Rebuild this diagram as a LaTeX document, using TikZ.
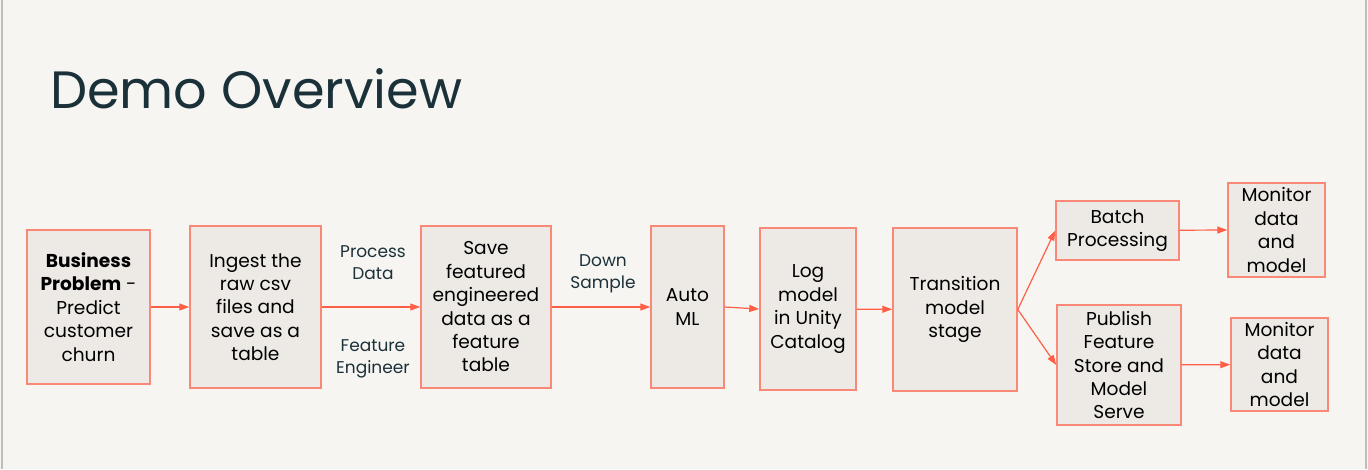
\documentclass[tikz,border=0pt]{standalone}
\usepackage{fontspec}
\setmainfont{Poppins}
\usepackage{xcolor}
\usetikzlibrary{arrows.meta}
\definecolor{dbbg}{HTML}{F7F5F2}
\definecolor{dbfill}{HTML}{EDEAE6}
\definecolor{dbline}{HTML}{F98877}
\definecolor{dbarrow}{HTML}{FF5F46}
\definecolor{dbnavy}{HTML}{1B3139}
\definecolor{dbedge}{HTML}{BDBDBD}

\begin{document}
\begin{tikzpicture}[x=1pt, y=-1pt,
		stepbox/.style={draw=dbline, line width=1.5pt, fill=dbfill, inner sep=0pt, align=center, font=\fontsize{18.6}{23.4}\selectfont, text=black},
		flow/.style={draw=dbarrow, line width=1.2pt, -{Triangle[length=10pt, width=7pt]}},
		note/.style={align=center, font=\fontsize{17}{22}\selectfont, text=dbnavy}]
		\useasboundingbox (0,0) rectangle (1368,469);
		\fill[dbbg] (0,0) rectangle (1368,469);
		\draw[color=dbedge, line width=1.5pt] (2,0) -- (2,469);
		\draw[color=dbedge, line width=1.5pt] (1366,0) -- (1366,469);
		\node[anchor=base west, font=\fontsize{52.5}{60}\selectfont, text=dbnavy, inner sep=0pt] (title) at (50,108) {Demo Overview};
		\node[stepbox, minimum width=123pt, minimum height=154pt] (problem) at (88.5,307) {\textbf{Business}\\\textbf{Problem} -\\Predict\\customer\\churn};
		\node[stepbox, minimum width=131pt, minimum height=162pt] (ingest) at (255.5,307) {Ingest the\\raw csv\\files and\\save as a\\table};
		\node[stepbox, minimum width=130pt, minimum height=162pt] (featured) at (486,307) {Save\\featured\\engineered\\data as a\\feature\\table};
		\node[stepbox, minimum width=73pt, minimum height=162pt] (automl) at (687.5,307) {Auto\\ML};
		\node[stepbox, minimum width=96pt, minimum height=162pt] (logmodel) at (808,309) {Log\\model\\in Unity\\Catalog};
		\node[stepbox, minimum width=124pt, minimum height=163pt] (transition) at (955,309.5) {Transition\\model\\stage};
		\node[stepbox, minimum width=123pt, minimum height=59pt] (batch) at (1117.5,230.5) {Batch\\Processing};
		\node[stepbox, minimum width=97pt, minimum height=94pt] (monitora) at (1276.5,230) {Monitor\\data\\and\\model};
		\node[stepbox, minimum width=124pt, minimum height=120pt] (publish) at (1119,365) {Publish\\Feature\\Store and\\Model\\Serve};
		\node[stepbox, minimum width=97pt, minimum height=93pt] (monitorb) at (1279.5,364.5) {Monitor\\data\\and\\model};
		\node[note] (process) at (373,263) {Process\\Data};
		\node[note] (engineer) at (373,359) {Feature\\Engineer};
		\node[note] (sample) at (603,274) {Down\\Sample};
		\draw[flow] (problem) -- (ingest);
		\draw[flow] (ingest) -- (featured);
		\draw[flow] (featured) -- (automl);
		\draw[flow] (automl.east) -- (logmodel.west);
		\draw[flow] (logmodel) -- (transition);
		\draw[flow] (transition.east) -- (batch.west);
		\draw[flow] (transition.east) -- (publish.west);
		\draw[flow] (batch) -- (monitora.west);
		\draw[flow] (publish) -- (monitorb);
	\end{tikzpicture}
\end{document}
